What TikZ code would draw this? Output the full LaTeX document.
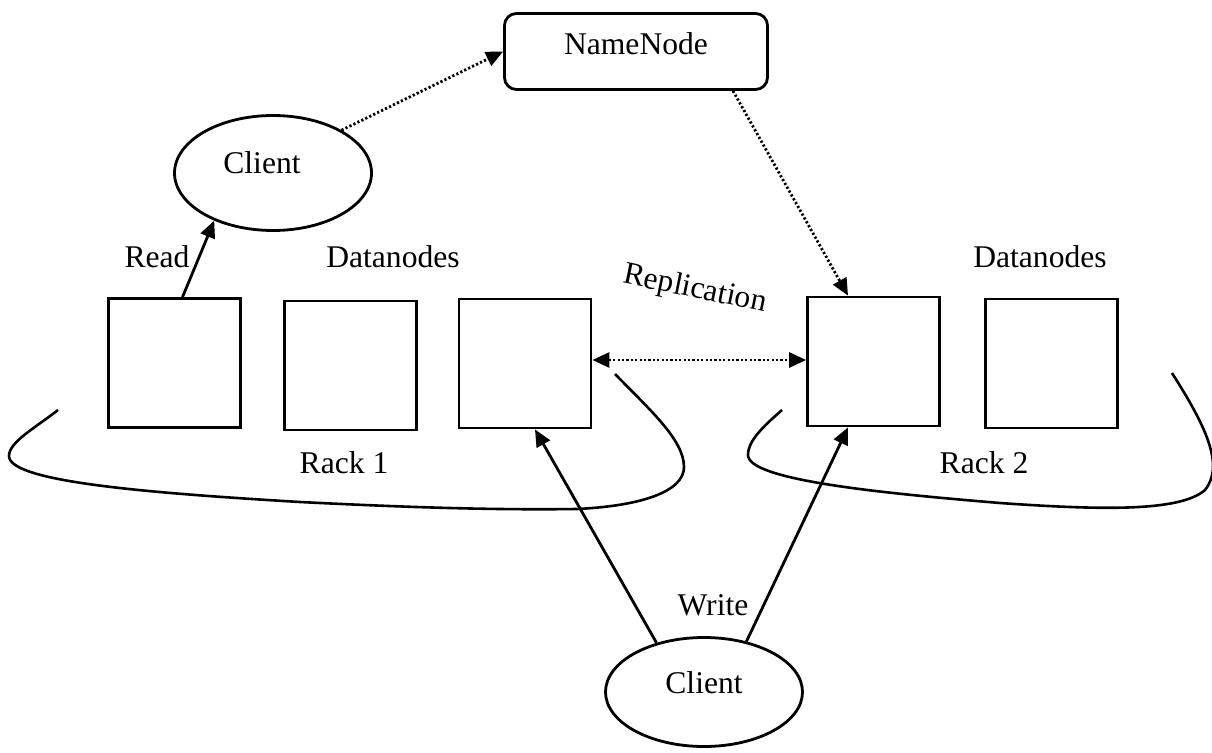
\documentclass[tikz,border=0pt]{standalone}
\usepackage{fontspec}
\setmainfont{Liberation Serif}
\usetikzlibrary{arrows.meta,shapes.geometric,calc}
\begin{document}
\begin{tikzpicture}[x=1pt,y=-1pt,
  every node/.style={font=\fontsize{31.6}{38}\selectfont},
  lw/.style={line width=2.8pt},
  datanode/.style={draw,lw,minimum width=132pt,minimum height=129pt,inner sep=0pt},
  clientshape/.style={draw,lw,ellipse,inner sep=0pt},
  lbl/.style={inner sep=0pt,anchor=base},
  tip/.style={-{Triangle[length=17pt,width=15pt]}},
  solidarrow/.style={lw,tip},
  dotpat/.style={dash pattern=on 2.2pt off 2.2pt},
  dottedarrow/.style={lw,tip,dotpat},
  rack/.style={line width=2.6pt}]
\useasboundingbox (0,0) rectangle (1212,752);

% name node
\node[draw,lw,rounded corners=12pt,minimum width=263pt,minimum height=76pt,
      inner sep=0pt,text height=20pt,text depth=13pt] (namenode) at (636,51.5) {NameNode};

% reading client
\node[clientshape,minimum width=197pt,minimum height=115pt] (client1) at (273,173) {};
\node[lbl] (client1text) at (262,173) {Client};

% writing client
\node[clientshape,minimum width=197pt,minimum height=109pt] (client2) at (704,692) {};
\node[lbl] (client2text) at (704,693) {Client};

% data nodes, rack 1
\node[datanode] (box1) at (174.5,363) {};
\node[datanode] (box2) at (350.5,365.5) {};
\node[datanode] (box3) at (525,363.5) {};
% data nodes, rack 2
\node[datanode] (box4) at (873.5,361.5) {};
\node[datanode] (box5) at (1051.5,363.5) {};

% labels
\node[lbl] (readlbl) at (157,267) {Read};
\node[lbl] (dn1) at (393,267) {Datanodes};
\node[lbl] (dn2) at (1040,267) {Datanodes};
\node[lbl] (rack1lbl) at (344,473) {Rack 1};
\node[lbl] (rack2lbl) at (984,473) {Rack 2};
\node[lbl] (writelbl) at (713,615) {Write};
\node[inner sep=0pt,rotate=-11.6] (repllbl) at (695,290) {Replication};

% rack outlines
\draw[rack] (58,410) .. controls (35,428) and (9,442) .. (9,456)
  .. controls (9,482) and (150,493) .. (300,502)
  .. controls (420,508) and (500,510) .. (577,509)
  .. controls (640,506) and (684,492) .. (684,467)
  .. controls (684,440) and (650,410) .. (615,374);
\draw[rack] (782,410) .. controls (765,425) and (748,440) .. (748,455)
  .. controls (748,480) and (880,493) .. (1000,503)
  .. controls (1100,510) and (1180,512) .. (1205,490)
  .. controls (1225,465) and (1205,425) .. (1172,373);

% end points of the replication link
\coordinate (replL) at ($(box3.east)+(0,-3.5)$);
\coordinate (replR) at (replL -| box4.west);

% connectors
\draw[dottedarrow] (client1.32) -- (namenode.west);
\draw[dottedarrow] ($(namenode.south)+(97,0)$) -- ($(box4.north)+(-25.5,0)$);
\draw[lw,dotpat,{Triangle[length=17pt,width=15pt]}-{Triangle[length=17pt,width=15pt]}]
  (replL) -- (replR);
\draw[solidarrow] ($(box1.north)+(8,0)$) -- (client1.219);
\draw[solidarrow] (client2.134) -- ($(box3.south)+(10,0)$);
\draw[solidarrow] (client2.50) -- ($(box4.south)+(-25.5,0)$);
\end{tikzpicture}
\end{document}
